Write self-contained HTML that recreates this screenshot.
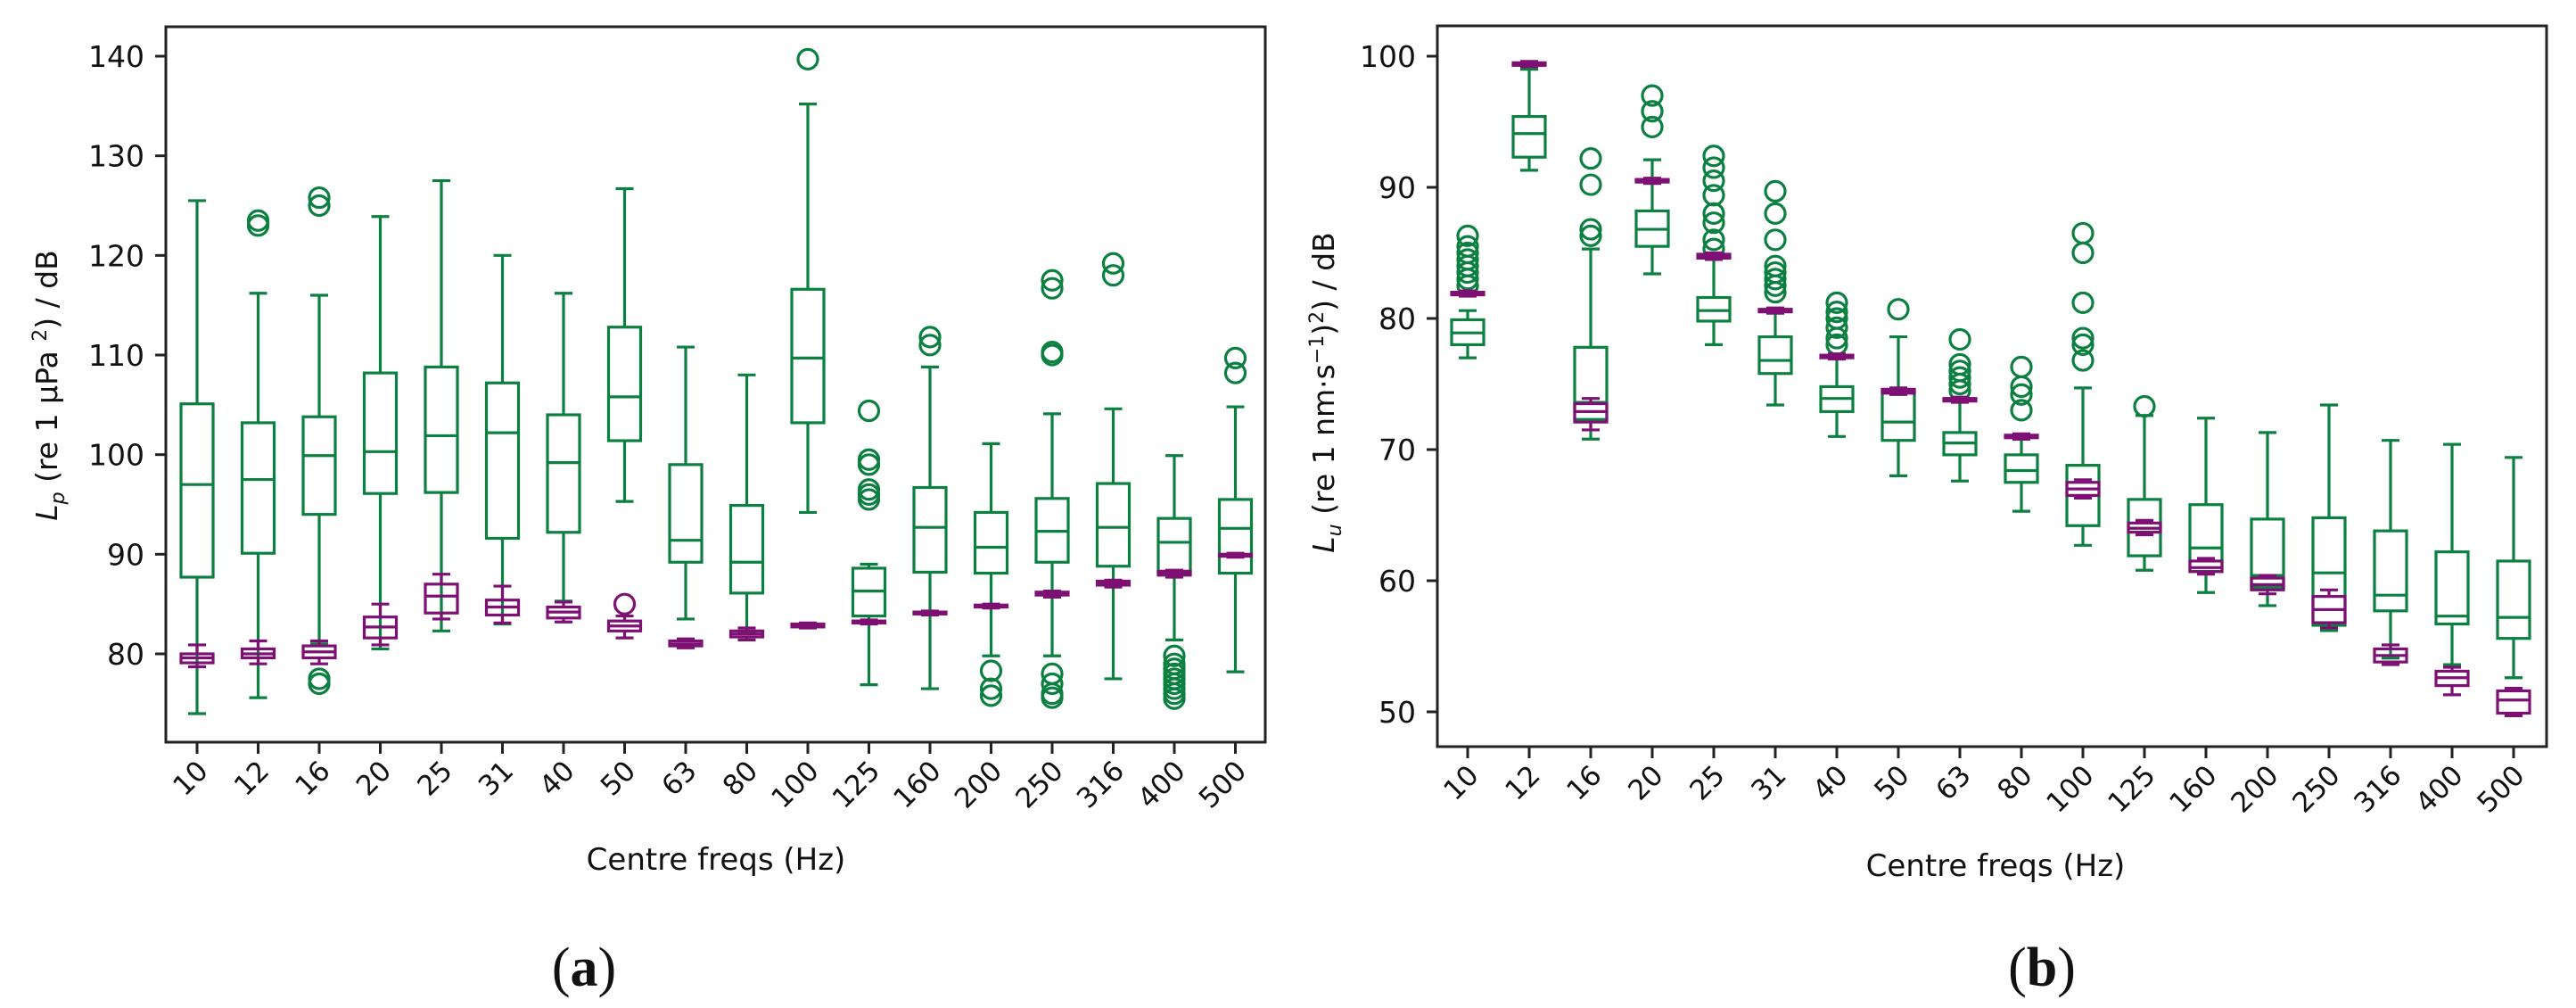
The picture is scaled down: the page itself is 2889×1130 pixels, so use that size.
<!DOCTYPE html>
<html><head><meta charset="utf-8"><style>
html,body{margin:0;padding:0;background:#fff;}
svg{display:block;}
text{font-family:"DejaVu Sans","Liberation Sans",sans-serif;fill:#111;}
</style></head><body>
<svg id="fig" width="2889" height="1130" viewBox="0 0 2889 1130"></svg>
<script>
const categories=["10","12","16","20","25","31","40","50","63","80","100","125","160","200","250","316","400","500"];
// [whislo,q1,med,q3,whishi]
const aGreen=[[74,87.7,97,105.1,125.5],[75.6,90.1,97.5,103.2,116.2],[81,94,99.9,103.8,116],[80.5,96.1,100.3,108.2,123.9],[82.3,96.2,101.9,108.8,127.5],[83,91.6,102.2,107.2,120],[85.3,92.2,99.2,104,116.2],[95.3,101.4,105.8,112.8,126.7],[83.5,89.2,91.4,99,110.8],[82.1,86.1,89.2,94.9,108],[94.2,103.2,109.7,116.6,135.2],[76.9,83.8,86.3,88.6,89],[76.5,88.2,92.7,96.7,108.8],[79.8,88.1,90.7,94.2,101.1],[79.8,89.2,92.3,95.6,104.1],[77.5,88.8,92.7,97.1,104.6],[81.4,88.1,91.2,93.6,99.9],[78.2,88.1,92.6,95.5,104.8]];
const aGreenFliers=[[],[123.5,123],[125.8,125,77.5,77],[],[],[],[],[],[],[],[139.7],[104.4,99.5,99,96.5,96,95.5],[111.8,111],[78.3,76.5,75.8],[117.5,116.7,110.3,110,78,77,76,75.6],[119.2,118],[79.8,79,78.5,78,77.5,77,76.5,76,75.5],[109.7,108.2]];
const aPurple=[[78.7,79.1,79.6,80,80.9],[79,79.6,80,80.5,81.3],[79,79.6,80.2,80.8,81.3],[80.9,81.6,82.7,83.7,85],[83.5,84.1,85.8,87,88],[83.1,83.9,84.7,85.4,86.8],[83.2,83.6,84.2,84.7,85.2],[81.6,82.3,82.8,83.3,83.8],[80.6,80.8,81,81.3,81.5],[81.4,81.7,82,82.3,82.6],[82.6,82.7,82.9,83,83.1],[83,83.1,83.2,83.3,83.4],[83.9,84,84.1,84.2,84.3],[84.6,84.7,84.8,84.9,85],[85.7,85.9,86,86.2,86.3],[86.7,86.9,87.1,87.3,87.4],[87.7,87.9,88.1,88.3,88.4],[89.7,89.8,89.9,90,90.1]];
const aPurpleFliers=[[],[],[],[],[],[],[],[85],[],[],[],[],[],[],[],[],[],[]];
const bGreen=[[77,78,78.9,79.9,80.6],[91.3,92.3,94.1,95.4,99],[70.8,72.3,73.6,77.8,85.3],[83.4,85.5,86.8,88.2,92.1],[78,79.8,80.6,81.6,84.6],[73.4,75.8,76.8,78.6,80.7],[71,72.9,73.9,74.8,77],[68,70.7,72.1,74.4,78.6],[67.6,69.6,70.5,71.3,73.8],[65.3,67.5,68.4,69.6,70.8],[62.7,64.2,66.5,68.8,74.7],[60.8,61.9,64,66.2,72.6],[59.1,60.7,62.5,65.8,72.4],[58.1,59.5,60.4,64.7,71.3],[56.2,56.6,60.6,64.8,73.4],[54.1,57.7,58.9,63.8,70.7],[53.6,56.7,57.3,62.2,70.4],[52.6,55.6,57.2,61.5,69.4]];
const bGreenFliers=[[86.3,85.5,85,84.5,84,83.5,83,82.5],[],[92.2,90.2,86.8,86.3],[97,95.8,94.6],[92.4,91.5,90.5,89.4,88,87.3,86,85.3],[89.7,88,86,84,83.5,83,82.5,82],[81.2,80.5,80,79.3,78.5,78],[80.7],[78.4,76.5,76,75.5,75,74.5],[76.3,74.8,74.2,73],[86.5,85,81.2,78.5,78,76.8],[73.3],[],[],[],[],[],[]];
const bPurple=[[81.7,81.8,81.9,82,82.1],[99.2,99.3,99.4,99.5,99.6],[71.5,72.1,72.9,73.5,73.9],[90.3,90.4,90.5,90.6,90.7],[84.5,84.6,84.8,84.9,85],[80.4,80.5,80.6,80.7,80.8],[76.9,77,77.1,77.2,77.3],[74.2,74.3,74.4,74.6,74.7],[73.6,73.7,73.8,73.9,74],[70.8,70.9,71,71.1,71.2],[66.3,66.5,67,67.5,67.7],[63.5,63.7,64,64.4,64.6],[60.5,60.7,61,61.5,61.7],[59,59.3,59.7,60.2,60.4],[56.4,56.8,57.8,58.8,59.3],[53.6,53.8,54.3,54.8,55.1],[51.3,52,52.6,53.1,53.4],[49.7,49.9,50.9,51.6,51.8]];
const aYTicks=[80,90,100,110,120,130,140];
const bYTicks=[50,60,70,80,90,100];

const NS="http://www.w3.org/2000/svg";
const svg=document.getElementById('fig');
function mk(tag,attrs,parent){const e=document.createElementNS(NS,tag);for(const k in attrs)e.setAttribute(k,attrs[k]);(parent||svg).appendChild(e);return e;}
const GREEN="#0b8040",PURPLE="#7e1074";

function panel(cfg){
  const g=mk('g',{});
  
  
  const xs=i=>cfg.x0+i*cfg.dx;
  const ys=v=>cfg.yA+(v-cfg.vA)*(cfg.yB-cfg.yA)/(cfg.vB-cfg.vA);
  function drawBox(st,fl,col,label){
    st.forEach((s,i)=>{
      const bg=mk('g',{stroke:col,'stroke-width':3.2,fill:'none'},g);
      
      
      const cx=xs(i),hw=18,cw=10;
      mk('line',{x1:cx,x2:cx,y1:ys(s[0]),y2:ys(s[1])},bg);
      mk('line',{x1:cx,x2:cx,y1:ys(s[3]),y2:ys(s[4])},bg);
      mk('line',{x1:cx-cw,x2:cx+cw,y1:ys(s[0]),y2:ys(s[0])},bg);
      mk('line',{x1:cx-cw,x2:cx+cw,y1:ys(s[4]),y2:ys(s[4])},bg);
      mk('rect',{x:cx-hw,y:ys(s[3]),width:2*hw,height:Math.max(ys(s[1])-ys(s[3]),0.5)},bg);
      mk('line',{x1:cx-hw,x2:cx+hw,y1:ys(s[2]),y2:ys(s[2])},bg);
      (fl[i]||[]).forEach(v=>{const c=mk('circle',{cx:cx,cy:ys(v),r:11},bg);
        
        });
    });
  }
  drawBox(cfg.green,cfg.gf,GREEN,'green');
  drawBox(cfg.purple,cfg.pf,PURPLE,'purple');
  const fr=mk('rect',{x:cfg.L,y:cfg.T,width:cfg.R-cfg.L,height:cfg.B-cfg.T,fill:'none',stroke:'#222','stroke-width':3},g);
  
  
  cfg.yt.forEach(v=>{
    mk('line',{x1:cfg.L-12,x2:cfg.L,y1:ys(v),y2:ys(v),stroke:'#222','stroke-width':3},g);
    const t=mk('text',{x:cfg.L-24,y:ys(v)+12,'text-anchor':'end','font-size':33},g);
    t.textContent=v;
    
    
  });
  categories.forEach((c,i)=>{
    const x=xs(i);
    mk('line',{x1:x,x2:x,y1:cfg.B,y2:cfg.B+13,stroke:'#222','stroke-width':3},g);
    const t=mk('text',{x:x+14,y:cfg.B+34,'text-anchor':'end','font-size':31,transform:`rotate(-45 ${x+14} ${cfg.B+34})`},g);
    t.textContent=c;
    
    
  });
}
panel({name:'panel-a',L:186,R:1419,T:30,B:832,x0:221,dx:68.5,yA:63,vA:140,yB:733,vB:80,yt:aYTicks,green:aGreen,gf:aGreenFliers,purple:aPurple,pf:aPurpleFliers});
panel({name:'panel-b',L:1612,R:2856,T:29,B:837,x0:1646,dx:69,yA:63,vA:100,yB:798,vB:50,yt:bYTicks,green:bGreen,gf:bGreenFliers,purple:bPurple,pf:[]});
</script>
<svg width="0" height="0"></svg>
<div style="position:absolute;left:0;top:0;width:2889px;height:1130px;pointer-events:none;">
<svg width="2889" height="1130" style="position:absolute;left:0;top:0">
<text x="0" y="0" transform="translate(64 432) rotate(-90)" text-anchor="middle" font-size="33" style="font-family:'DejaVu Sans',sans-serif"><tspan font-style="italic">L</tspan><tspan font-style="italic" font-size="22" dy="8">p</tspan><tspan dy="-8"> (re 1 μPa </tspan><tspan font-size="22" dy="-12">2</tspan><tspan dy="12">) / dB</tspan></text>
<text x="0" y="0" transform="translate(1496 440) rotate(-90)" text-anchor="middle" font-size="33" style="font-family:'DejaVu Sans',sans-serif"><tspan font-style="italic">L</tspan><tspan font-style="italic" font-size="22" dy="8">u</tspan><tspan dy="-8"> (re 1  nm·s</tspan><tspan font-size="22" dy="-12">−1</tspan><tspan dy="12">)</tspan><tspan font-size="22" dy="-12">2</tspan><tspan dy="12">) / dB</tspan></text>
<text x="803" y="975" text-anchor="middle" font-size="34" style="font-family:'DejaVu Sans',sans-serif">Centre freqs (Hz)</text>
<text x="2238" y="982" text-anchor="middle" font-size="34" style="font-family:'DejaVu Sans',sans-serif">Centre freqs (Hz)</text>
<text x="655" y="1105" text-anchor="middle" font-size="62" style="font-family:'Liberation Serif',serif">(<tspan font-weight="bold">a</tspan>)</text>
<text x="2290" y="1105" text-anchor="middle" font-size="62" style="font-family:'Liberation Serif',serif">(<tspan font-weight="bold">b</tspan>)</text>
</svg></div>
</body></html>
